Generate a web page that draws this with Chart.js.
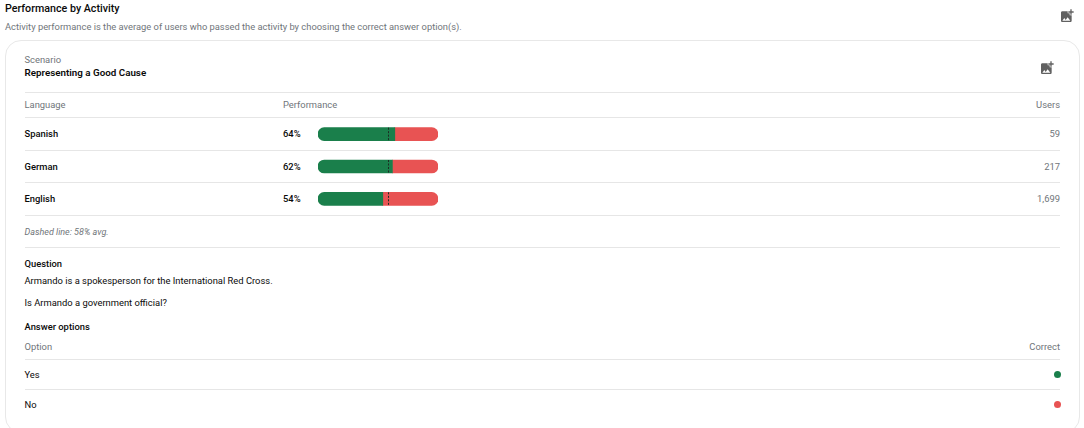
<!DOCTYPE html>
<html>
<head>
<meta charset="utf-8">
<script src="https://cdn.jsdelivr.net/npm/chart.js@4"></script>
<style>
  html, body { margin: 0; padding: 0; background: #fff; overflow: hidden; }
  body { width: 1084px; height: 428px; position: relative; font-family: Roboto, sans-serif; color: #0a0a0a; }
  .t { position: absolute; white-space: nowrap; line-height: 12px; font-size: 9.4px; }
  .grey { color: #70757a; }
  .bold { font-weight: 500; }
  .r { text-align: right; }
  .line { position: absolute; left: 25px; width: 1035px; height: 1px; background: #e6e6e6; }
  #card { position: absolute; left: 5px; top: 40px; width: 1073px; height: 391px; border: 1px solid #e8e8e8; border-radius: 16px; }
  #wrap { position: absolute; left: 318px; top: 118px; width: 120px; height: 97px; }
  svg { position: absolute; fill: #616161; }
  .dot { position: absolute; width: 7px; height: 7px; border-radius: 50%; left: 1054px; }
</style>
</head>
<body>
<div class="t bold" style="left:5px;top:3px;font-size:10.7px;">Performance by Activity</div>
<div class="t grey" style="left:5px;top:21px;font-size:9.35px;">Activity performance is the average of users who passed the activity by choosing the correct answer option(s).</div>
<svg style="left:1059px;top:8px" width="16" height="16" viewBox="0 0 24 24"><path d="M19 7v2.99s-1.99.01-2 0V7h-3s.01-1.99 0-2h3V2h2v3h3v2h-3zm-3 4V8h-3V5H5c-1.1 0-2 .9-2 2v12c0 1.1.9 2 2 2h12c1.1 0 2-.9 2-2v-8h-3zM5 19l3-4 2 3 3-4 4 5H5z"/></svg>

<div id="card"></div>
<div class="t grey" style="left:24.5px;top:54px;">Scenario</div>
<div class="t bold" style="left:24.5px;top:67px;font-size:9.8px;font-weight:600;">Representing a Good Cause</div>
<svg style="left:1039px;top:60px" width="16" height="16" viewBox="0 0 24 24"><path d="M19 7v2.99s-1.99.01-2 0V7h-3s.01-1.99 0-2h3V2h2v3h3v2h-3zm-3 4V8h-3V5H5c-1.1 0-2 .9-2 2v12c0 1.1.9 2 2 2h12c1.1 0 2-.9 2-2v-8h-3zM5 19l3-4 2 3 3-4 4 5H5z"/></svg>

<div class="line" style="top:92px"></div>
<div class="t grey" style="left:24.5px;top:99px;">Language</div>
<div class="t grey" style="left:283px;top:99px;">Performance</div>
<div class="t grey r" style="right:24px;top:99px;">Users</div>
<div class="line" style="top:117px"></div>
<div class="line" style="top:150px"></div>
<div class="line" style="top:182px"></div>
<div class="line" style="top:215px"></div>
<div id="rows"></div>
<div id="wrap"><canvas id="bars"></canvas></div>

<div class="t grey" style="left:24.5px;top:226px;font-style:italic;font-size:9px;" id="avgNote"></div>
<div class="line" style="top:247px"></div>
<div class="t bold" style="left:24.5px;top:258px;">Question</div>
<div class="t" style="left:24.5px;top:275px;">Armando is a spokesperson for the International Red Cross.</div>
<div class="t" style="left:24.5px;top:297px;">Is Armando a government official?</div>
<div class="t bold" style="left:24.5px;top:321px;">Answer options</div>
<div class="t grey" style="left:24.5px;top:341px;">Option</div>
<div class="t grey r" style="right:24px;top:341px;">Correct</div>
<div class="line" style="top:359px"></div>
<div class="t" style="left:24.5px;top:369px;">Yes</div>
<div class="dot" style="top:371px;background:#1a7f4b"></div>
<div class="line" style="top:389px"></div>
<div class="t" style="left:24.5px;top:399px;">No</div>
<div class="dot" style="top:401px;background:#e85353"></div>

<script>
const languages = ["Spanish", "German", "English"];
const passed = [64, 62, 54];
const failed = [36, 38, 46];
const users = ["59", "217", "1,699"];
const average = 58;

const rowTops = [128, 161, 193];

// Text for each row
const rows = document.getElementById("rows");
languages.forEach((lang, i) => {
  rows.insertAdjacentHTML("beforeend",
    `<div class="t bold" style="left:24.5px;top:${rowTops[i]}px;">${lang}</div>` +
    `<div class="t bold" style="left:283px;top:${rowTops[i]}px;">${passed[i]}%</div>` +
    `<div class="t grey r" style="right:24px;top:${rowTops[i]}px;">${users[i]}</div>`);
});
document.getElementById("avgNote").textContent = `Dashed line: ${average}% avg.`;

// Dashed average marker inside each bar
const avgMarker = {
  id: "avgMarker",
  afterDatasetsDraw(chart) {
    const { ctx, scales } = chart;
    const x = Math.round(scales.x.getPixelForValue(average)) + 0.5;
    ctx.save();
    ctx.strokeStyle = "#1c2b22";
    ctx.lineWidth = 1;
    ctx.setLineDash([2, 1.5]);
    languages.forEach((lang, i) => {
      const y = scales.y.getPixelForValue(i);
      ctx.beginPath();
      ctx.moveTo(x, y - 6.5);
      ctx.lineTo(x, y + 6.5);
      ctx.stroke();
    });
    ctx.restore();
  }
};

new Chart(document.getElementById("bars"), {
  type: "bar",
  data: {
    labels: languages,
    datasets: [
      {
        label: "Passed",
        data: passed,
        backgroundColor: "#1a7f4b",
        barThickness: 13,
        borderSkipped: false,
        borderRadius: { topLeft: 6.5, bottomLeft: 6.5, topRight: 0, bottomRight: 0 }
      },
      {
        label: "Failed",
        data: failed,
        backgroundColor: "#e85353",
        barThickness: 13,
        borderSkipped: false,
        borderRadius: { topLeft: 0, bottomLeft: 0, topRight: 6.5, bottomRight: 6.5 }
      }
    ]
  },
  options: {
    indexAxis: "y",
    responsive: true,
    maintainAspectRatio: false,
    animation: false,
    layout: { padding: 0 },
    plugins: { legend: { display: false }, tooltip: { enabled: false } },
    scales: {
      x: { stacked: true, min: 0, max: 100, display: false },
      y: { stacked: true, display: false }
    }
  },
  plugins: [avgMarker]
});
</script>
</body>
</html>
